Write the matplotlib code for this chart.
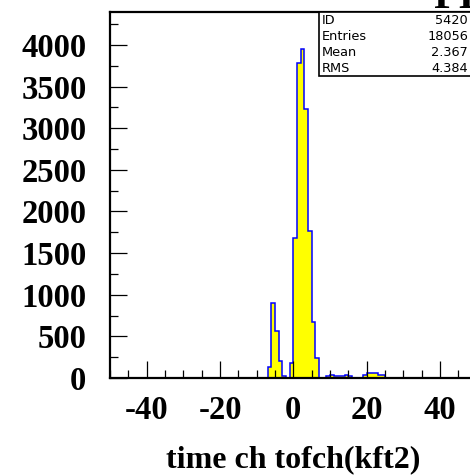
import numpy as np
import matplotlib
matplotlib.use("Agg")
import matplotlib.pyplot as plt
from matplotlib.patches import Rectangle
from matplotlib.ticker import MultipleLocator

plt.rcParams["axes.unicode_minus"] = False

# histogram: 100 bins of width 1 from -50 to 50
bin_edges = np.arange(-50, 51, 1)
counts = [
    0, 0, 0, 0, 0, 0, 0, 0, 0, 0,
    0, 0, 0, 0, 0, 0, 0, 0, 0, 0,
    0, 0, 0, 0, 0, 0, 0, 0, 0, 0,
    0, 0, 0, 0, 0, 0, 0, 0, 1, 1,
    2, 2, 3, 136, 897, 570, 202, 20, 4, 184,
    1678, 3787, 3948, 3235, 1766, 672, 236, 2, 2, 28,
    40, 28, 28, 28, 32, 24, 2, 2, 2, 36,
    56, 56, 56, 36, 36, 2, 1, 1, 0, 0,
    0, 0, 0, 0, 0, 0, 0, 0, 0, 0,
    0, 0, 0, 0, 0, 0, 0, 0, 0, 0,
]

stat_names = ["ID", "Entries", "Mean", "RMS"]
stat_values = ["5420", "18056", "2.367", "4.384"]

title = "FI"
xlabel = "time ch tofch(kft2)"

W, H = 470, 475
fig = plt.figure(figsize=(W / 100, H / 100), dpi=100)

x0, x1 = 110, 476.7
y0, y1 = 12, 378
ax = fig.add_axes([x0 / W, 1 - y1 / H, (x1 - x0) / W, (y1 - y0) / H])

ax.stairs(counts, bin_edges, fill=True, color="#ffff00")
ax.stairs(counts, bin_edges, color="#0000ff", linewidth=1.1)

ax.set_xlim(-50, 50)
ax.set_ylim(0, 4396)

ax.xaxis.set_major_locator(MultipleLocator(20))
ax.xaxis.set_minor_locator(MultipleLocator(5))
ax.yaxis.set_major_locator(MultipleLocator(500))
ax.yaxis.set_minor_locator(MultipleLocator(250))

ax.tick_params(which="both", direction="in", top=False, right=False, width=0.9, color="black")
ax.tick_params(which="major", length=12.2)
ax.tick_params(which="minor", length=6.0)
ax.tick_params(axis="x", which="major", pad=12.5)
ax.tick_params(axis="y", which="major", pad=17)

for lab in ax.get_xticklabels() + ax.get_yticklabels():
    lab.set_fontfamily("Liberation Serif")
    lab.set_fontweight("bold")
    lab.set_fontsize(23.5)

for sp in ax.spines.values():
    sp.set_linewidth(1.6)

# stats box
bx0, by0, by1 = 319, 12, 75.5
box = Rectangle((bx0 / W, 1 - by1 / H), (W + 20 - bx0) / W, (by1 - by0) / H,
                transform=fig.transFigure, fill=True, facecolor="white",
                edgecolor="black", linewidth=1.2, zorder=5, clip_on=False)
fig.add_artist(box)
row_y = [20, 36, 52, 68]
for name, val, yy in zip(stat_names, stat_values, row_y):
    fig.text(322 / W, 1 - yy / H, name, fontsize=9.3, family="DejaVu Sans",
             va="center", ha="left", zorder=6)
    fig.text(468 / W, 1 - yy / H, val, fontsize=9.3, family="DejaVu Sans",
             va="center", ha="right", zorder=6)

fig.text(433 / W, 1 - 7.5 / H, title, fontsize=30, family="Liberation Serif",
         fontweight="bold", va="baseline", ha="left")

fig.text(293.3 / W, 1 - 467 / H, xlabel, fontsize=23, family="Liberation Serif",
         fontweight="bold", va="baseline", ha="center")

fig.savefig("out.png", dpi=100)
